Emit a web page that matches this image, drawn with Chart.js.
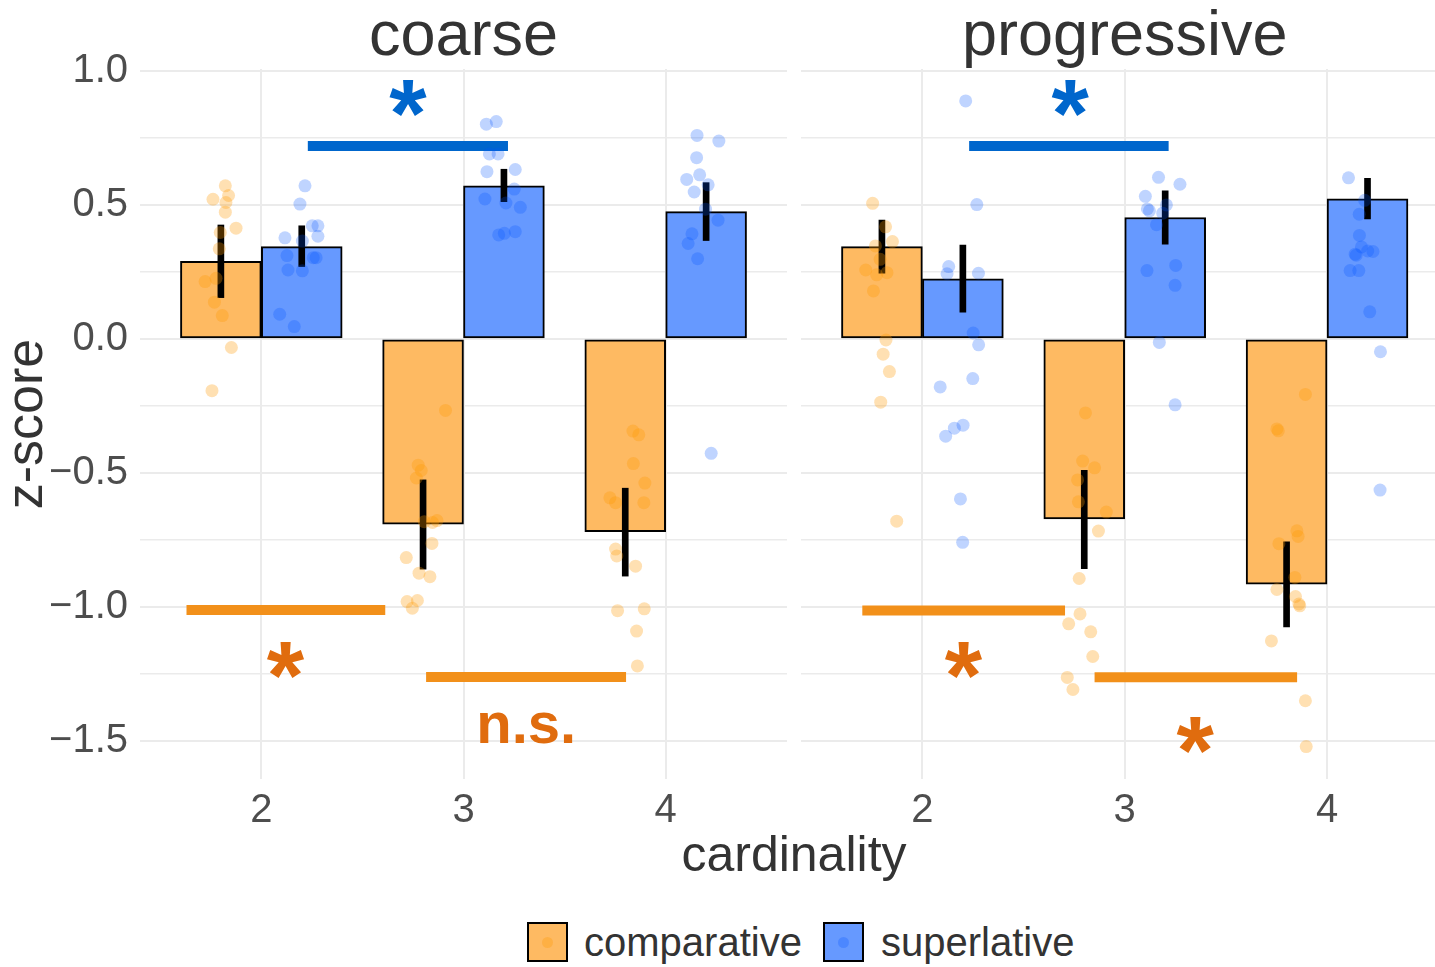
<!DOCTYPE html>
<html>
<head>
<meta charset="utf-8">
<title>z-score by cardinality</title>
<script src="https://cdn.jsdelivr.net/npm/chart.js@4.4.1/dist/chart.umd.min.js"></script>
<style>
  body { margin: 0; background: #fff; }
  #wrap {
    position: relative; width: 1435px; height: 967px; overflow: hidden;
    font-family: "Liberation Sans", Arial, Helvetica, sans-serif; color: #333;
  }
  canvas { position: absolute; top: 0; }
  #coarseChart { left: 0; }
  #progressiveChart { left: 794px; }
  .axis-title { position: absolute; left: 594px; top: 829px; width: 400px; text-align: center; font-size: 50px; line-height: 50px; }
  .key { position: absolute; top: 922px; width: 37px; height: 36px; border: 2px solid #000; }
  .key span { position: absolute; left: 13px; top: 13px; width: 11px; height: 11px; border-radius: 50%; }
  .key-label { position: absolute; top: 922px; font-size: 40px; line-height: 40px; white-space: nowrap; }
</style>
</head>
<body>
<div id="wrap">
  <canvas id="coarseChart" width="794" height="830"></canvas>
  <canvas id="progressiveChart" width="648" height="830"></canvas>
  <div class="axis-title">cardinality</div>
  <div class="key" id="keyComparative" style="left:527px"><span></span></div>
  <div class="key-label" style="left:584px">comparative</div>
  <div class="key" id="keySuperlative" style="left:823px"><span></span></div>
  <div class="key-label" style="left:881px">superlative</div>
</div>
<script>
Chart.defaults.font.family = '"Liberation Sans", Arial, Helvetica, sans-serif';
Chart.defaults.animation = false;

// ---- data ----
const categories = [2, 3, 4];
const panelTitles = ["coarse", "progressive"];
const yTicks = [-1.5, -1.25, -1.0, -0.75, -0.5, -0.25, 0, 0.25, 0.5, 0.75, 1.0];

// mean z-score per cardinality (bar heights)
const coarseCompMean = [0.289, -0.691, -0.719];
const coarseSupMean = [0.344, 0.571, 0.475];
const progCompMean = [0.344, -0.672, -0.915];
const progSupMean = [0.224, 0.453, 0.523];

// error bar ends
const coarseCompLow = [0.154, -0.859, -0.885];
const coarseCompHigh = [0.425, -0.526, -0.557];
const coarseSupLow = [0.270, 0.512, 0.367];
const coarseSupHigh = [0.422, 0.633, 0.583];
const progCompLow = [0.245, -0.857, -1.075];
const progCompHigh = [0.443, -0.490, -0.757];
const progSupLow = [0.100, 0.353, 0.448];
const progSupHigh = [0.350, 0.552, 0.599];

// jittered participant scores: [x, z]
const coarseCompPoints = [
  [1.822, 0.571], [1.838, 0.535], [1.761, 0.521], [1.825, 0.509], [1.822, 0.473], [1.875, 0.413], [1.797, 0.397],
  [1.792, 0.336], [1.722, 0.214], [1.776, 0.226], [1.768, 0.137], [1.807, 0.087], [1.852, -0.032], [1.756, -0.193],
  [2.911, -0.267], [2.776, -0.471], [2.791, -0.491], [2.767, -0.519], [2.806, -0.682], [2.869, -0.678], [2.847, -0.685],
  [2.844, -0.763], [2.717, -0.816], [2.780, -0.874], [2.834, -0.887], [2.721, -0.980], [2.772, -0.976], [2.747, -1.005],
  [3.838, -0.344], [3.867, -0.358], [3.840, -0.465], [3.897, -0.538], [3.724, -0.593], [3.752, -0.611], [3.892, -0.611],
  [3.752, -0.784], [3.758, -0.810], [3.851, -0.848], [3.762, -1.014], [3.894, -1.007], [3.856, -1.090], [3.860, -1.220]
];
const coarseSupPoints = [
  [2.216, 0.571], [2.191, 0.503], [2.252, 0.422], [2.280, 0.422], [2.280, 0.383], [2.117, 0.377], [2.203, 0.365],
  [2.127, 0.311], [2.257, 0.303], [2.271, 0.303], [2.132, 0.257], [2.203, 0.254], [2.091, 0.092], [2.163, 0.046],
  [3.113, 0.801], [3.162, 0.811], [3.128, 0.690], [3.171, 0.690], [3.116, 0.624], [3.256, 0.632], [3.251, 0.559],
  [3.106, 0.522], [3.210, 0.507], [3.281, 0.491], [3.202, 0.394], [3.174, 0.388], [3.256, 0.400],
  [4.155, 0.759], [4.263, 0.738], [4.153, 0.676], [4.104, 0.595], [4.168, 0.612], [4.210, 0.575], [4.141, 0.548],
  [4.197, 0.484], [4.259, 0.443], [4.130, 0.392], [4.111, 0.356], [4.158, 0.299], [4.225, -0.427]
];
const progCompPoints = [
  [1.754, 0.506], [1.818, 0.418], [1.852, 0.363], [1.768, 0.347], [1.791, 0.297], [1.720, 0.257], [1.774, 0.239],
  [1.825, 0.247], [1.758, 0.179], [1.820, -0.004], [1.806, -0.057], [1.837, -0.122], [1.794, -0.236], [1.873, -0.680],
  [2.806, -0.276], [2.792, -0.456], [2.851, -0.481], [2.767, -0.526], [2.771, -0.608], [2.909, -0.646], [2.870, -0.717],
  [2.775, -0.894], [2.779, -1.026], [2.723, -1.063], [2.832, -1.093], [2.842, -1.185], [2.716, -1.263], [2.744, -1.308],
  [3.893, -0.207], [3.752, -0.336], [3.759, -0.343], [3.851, -0.716], [3.857, -0.737], [3.762, -0.764], [3.841, -0.890],
  [3.752, -0.935], [3.844, -0.961], [3.865, -0.996], [3.861, -0.989], [3.725, -1.127], [3.893, -1.350], [3.897, -1.521]
];
const progSupPoints = [
  [2.214, 0.888], [2.269, 0.501], [2.130, 0.270], [2.122, 0.243], [2.277, 0.245], [2.251, 0.022], [2.278, -0.022],
  [2.249, -0.148], [2.088, -0.179], [2.201, -0.322], [2.158, -0.333], [2.115, -0.363], [2.188, -0.597], [2.199, -0.759],
  [3.167, 0.603], [3.273, 0.577], [3.102, 0.532], [3.122, 0.478], [3.112, 0.485], [3.206, 0.500], [3.188, 0.469],
  [3.157, 0.426], [3.252, 0.274], [3.110, 0.255], [3.249, 0.200], [3.171, -0.013], [3.249, -0.246],
  [4.106, 0.601], [4.186, 0.517], [4.159, 0.465], [4.160, 0.386], [4.170, 0.343], [4.139, 0.316], [4.144, 0.312],
  [4.201, 0.328], [4.227, 0.326], [4.114, 0.255], [4.157, 0.255], [4.211, 0.101], [4.264, -0.048], [4.262, -0.564]
];

// significance brackets
const coarseLineGroup = ["superlative", "comparative", "comparative"];
const coarseLineFrom = [2.23, 1.63, 2.815];
const coarseLineTo = [3.22, 2.613, 3.804];
const coarseLineY = [0.72, -1.011, -1.261];
const coarseMarkText = ["*", "*", "n.s."];
const coarseMarkX = [2.727, 2.121, 3.31];
const coarseMarkY = [0.897, -1.198, -1.451];

const progLineGroup = ["superlative", "comparative", "comparative"];
const progLineFrom = [2.231, 1.703, 2.851];
const progLineTo = [3.217, 2.705, 3.852];
const progLineY = [0.72, -1.013, -1.262];
const progMarkText = ["*", "*", "*"];
const progMarkX = [2.732, 2.204, 3.35];
const progMarkY = [0.899, -1.198, -1.478];

// ---- styling ----
const COLORS = {
  comparative: { bar: "#FEBA62", point: "rgba(255, 153, 0, 0.3)", line: "#F2901A", text: "#E06C0E" },
  superlative: { bar: "#6699FF", point: "rgba(0, 85, 255, 0.25)", line: "#0066CC", text: "#0066CC" },
};
const DODGE = 0.2; // half of the dodge width
const GRID = "#EBEBEB";

document.querySelector("#keyComparative").style.background = COLORS.comparative.bar;
document.querySelector("#keyComparative span").style.background = COLORS.comparative.point;
document.querySelector("#keySuperlative").style.background = COLORS.superlative.bar;
document.querySelector("#keySuperlative span").style.background = COLORS.superlative.point;

/**
 * Plugin drawing the facet title and the significance marks
 */
function makeMarkPlugin(title, text, xs, ys, groups) {
  return {
    id: "marks" + title,
    afterDatasetsDraw(chart) {
      const { ctx, scales, chartArea } = chart;
      ctx.save();
      ctx.textAlign = "center";
      ctx.textBaseline = "alphabetic";

      // facet strip title
      ctx.fillStyle = "#333";
      ctx.font = '63px "Liberation Sans", Arial, sans-serif';
      ctx.fillText(title, scales.x.getPixelForValue(categories[1]), chartArea.top - 14);

      text.forEach((t, i) => {
        const size = t === "*" ? 96 : 58;
        ctx.font = `bold ${size}px "Liberation Sans", Arial, sans-serif`;
        ctx.fillStyle = COLORS[groups[i]].text;
        const m = ctx.measureText(t);
        const px = scales.x.getPixelForValue(xs[i]) + (m.actualBoundingBoxLeft - m.actualBoundingBoxRight) / 2;
        const py = scales.y.getPixelForValue(ys[i]) + (m.actualBoundingBoxAscent - m.actualBoundingBoxDescent) / 2;
        ctx.fillText(t, px, py);
      });
      ctx.restore();
    },
  };
}

function buildDatasets(p) {
  const sets = [];
  // jittered points on top
  sets.push({
    type: "scatter", order: 0,
    data: p.compPoints.map(([x, y]) => ({ x, y })),
    backgroundColor: COLORS.comparative.point,
    pointRadius: 6.5, pointBorderWidth: 0, pointHoverRadius: 6.5,
  });
  sets.push({
    type: "scatter", order: 0,
    data: p.supPoints.map(([x, y]) => ({ x, y })),
    backgroundColor: COLORS.superlative.point,
    pointRadius: 6.5, pointBorderWidth: 0, pointHoverRadius: 6.5,
  });
  // error bars
  [
    [-DODGE, p.compLow, p.compHigh],
    [DODGE, p.supLow, p.supHigh],
  ].forEach(([shift, lo, hi]) => {
    sets.push({
      type: "bar", order: 1, grouped: false,
      data: categories.map((c, i) => ({ x: c + shift, y: [lo[i], hi[i]] })),
      backgroundColor: "#000", borderWidth: 0, barThickness: 6,
    });
  });
  // mean bars
  [
    [-DODGE, p.compMean, "comparative"],
    [DODGE, p.supMean, "superlative"],
  ].forEach(([shift, mean, group]) => {
    sets.push({
      type: "bar", order: 2, grouped: false,
      data: categories.map((c, i) => ({ x: c + shift, y: mean[i] })),
      backgroundColor: COLORS[group].bar,
      borderColor: "#000", borderWidth: 2, borderSkipped: false,
      barPercentage: 1, categoryPercentage: 1,
    });
  });
  // significance lines
  p.lineGroup.forEach((g, i) => {
    sets.push({
      type: "line", order: 3,
      data: [{ x: p.lineFrom[i], y: p.lineY[i] }, { x: p.lineTo[i], y: p.lineY[i] }],
      borderColor: COLORS[g].line, borderWidth: 10, borderCapStyle: "butt",
      pointRadius: 0, pointHoverRadius: 0, fill: false,
    });
  });
  return sets;
}

function isMajor(value) {
  return Math.abs(value * 2 - Math.round(value * 2)) < 1e-6;
}

function formatTick(value) {
  if (!isMajor(value)) return "";
  return value.toFixed(1).replace("-", "\u2212");
}

function makeChart(canvasId, p, opts) {
  const ctx = document.getElementById(canvasId);
  if (!ctx) return null;
  return new Chart(ctx, {
    type: "bar",
    data: { datasets: buildDatasets(p) },
    plugins: [makeMarkPlugin(p.title, p.markText, p.markX, p.markY, p.lineGroup)],
    options: {
      responsive: false,
      animation: false,
      events: [],
      layout: { padding: opts.padding },
      plugins: { legend: { display: false }, tooltip: { enabled: false }, title: { display: false } },
      scales: {
        x: {
          type: "linear", min: 1.4, max: opts.xMax, bounds: "data", offset: false,
          border: { display: false },
          grid: { color: GRID, lineWidth: 2, drawTicks: false, offset: false },
          ticks: {
            autoSkip: false, maxRotation: 0,
            padding: 8, color: "#4D4D4D", font: { size: 40 },
            callback: (v) => String(v),
          },
          afterBuildTicks: (scale) => { scale.ticks = categories.map((v) => ({ value: v })); },
          afterFit: (scale) => { scale.height = 51; },
        },
        y: {
          type: "linear", min: -1.642, max: 1.007, bounds: "data",
          border: { display: false },
          grid: {
            color: GRID, drawTicks: false,
            lineWidth: (c) => (c.tick && isMajor(c.tick.value) ? 2 : 1.5),
          },
          ticks: {
            display: opts.showY, autoSkip: false,
            padding: 12, color: "#4D4D4D", font: { size: 40 },
            callback: formatTick,
          },
          afterBuildTicks: (scale) => { scale.ticks = yTicks.map((v) => ({ value: v })); },
          title: {
            display: opts.showY, text: "z-score", color: "#333",
            font: { size: 52, lineHeight: 1 }, padding: { top: 2, bottom: 0 },
          },
          afterFit: (scale) => { scale.width = opts.yWidth; },
        },
      },
    },
  });
}

makeChart("coarseChart", {
  title: panelTitles[0],
  compMean: coarseCompMean, supMean: coarseSupMean,
  compLow: coarseCompLow, compHigh: coarseCompHigh, supLow: coarseSupLow, supHigh: coarseSupHigh,
  compPoints: coarseCompPoints, supPoints: coarseSupPoints,
  lineGroup: coarseLineGroup, lineFrom: coarseLineFrom, lineTo: coarseLineTo, lineY: coarseLineY,
  markText: coarseMarkText, markX: coarseMarkX, markY: coarseMarkY,
}, { padding: { top: 69, right: 7, left: 0, bottom: 0 }, xMax: 4.6, showY: true, yWidth: 140 });

makeChart("progressiveChart", {
  title: panelTitles[1],
  compMean: progCompMean, supMean: progSupMean,
  compLow: progCompLow, compHigh: progCompHigh, supLow: progSupLow, supHigh: progSupHigh,
  compPoints: progCompPoints, supPoints: progSupPoints,
  lineGroup: progLineGroup, lineFrom: progLineFrom, lineTo: progLineTo, lineY: progLineY,
  markText: progMarkText, markX: progMarkX, markY: progMarkY,
}, { padding: { top: 69, right: 0, left: 7, bottom: 0 }, xMax: 4.536, showY: false, yWidth: 0 });
</script>
</body>
</html>
